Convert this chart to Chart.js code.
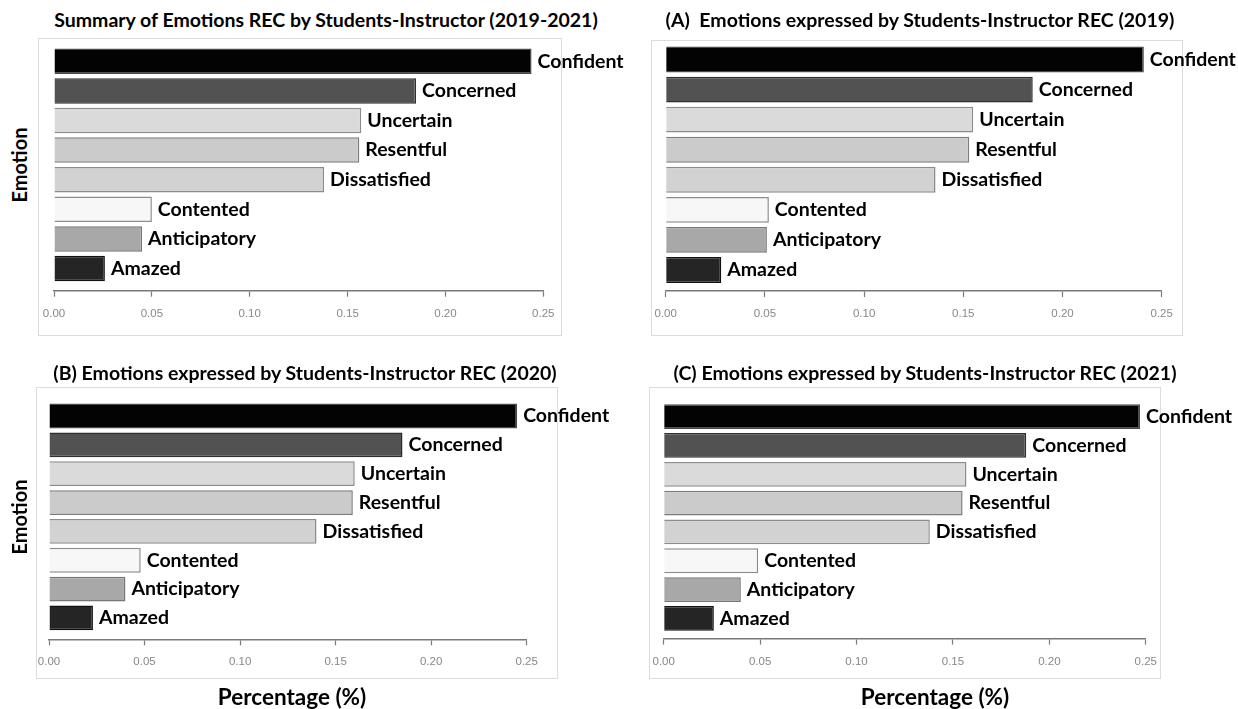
<!DOCTYPE html>
<html lang="en">
<head>
    <meta charset="UTF-8">
    <title>Emotions REC by Students-Instructor</title>
    <script src="https://cdn.jsdelivr.net/npm/chart.js"></script>
    <style>
        body {
            margin: 0;
            background: #fff;
            font-family: Lato, "Open Sans", sans-serif;
        }
        #page {
            position: relative;
            width: 1238px;
            height: 709px;
            overflow: hidden;
        }
        .frame {
            position: absolute;
            border: 1px solid #dcdcdc;
            box-sizing: border-box;
        }
        .title, .axis-title {
            position: absolute;
            font-weight: bold;
            white-space: pre;
            transform: translate(-50%, -50%);
            color: #000;
        }
        .title { font-size: 19.5px; }
        .axis-title { font-size: 20px; }
        .axis-title.pct { font-size: 22.5px; }
        .rot { transform: translate(-50%, -50%) rotate(-90deg); }
        canvas {
            position: absolute;
            left: 0;
            top: 0;
        }
    </style>
</head>
<body>
<div id="page"></div>

<script>
    // Emotion categories, top to bottom
    const emotions = ['Confident', 'Concerned', 'Uncertain', 'Resentful', 'Dissatisfied', 'Contented', 'Anticipatory', 'Amazed'];

    // Share of each emotion
    const summary2019to2021 = [0.244, 0.185, 0.157, 0.156, 0.138, 0.050, 0.045, 0.026];
    const values2019 = [0.241, 0.185, 0.155, 0.153, 0.136, 0.052, 0.051, 0.028];
    const values2020 = [0.245, 0.185, 0.160, 0.159, 0.140, 0.048, 0.040, 0.023];
    const values2021 = [0.247, 0.188, 0.157, 0.155, 0.138, 0.049, 0.040, 0.026];

    const xTicks = [0, 0.05, 0.10, 0.15, 0.20, 0.25];

    // grey shades per emotion
    const fills = ['#030303', '#525252', '#dadada', '#cbcbcb', '#d2d2d2', '#f7f7f7', '#a8a8a8', '#252525'];
    const borders = ['#4a4a4a', '#2e2e2e', '#8c8c8c', '#7c7c7c', '#8c8c8c', '#8c8c8c', '#777777', '#111111'];

    const W = 1238, H = 709, AXIS_H = 30;

    const panels = [
        {
            title: 'Summary of Emotions REC by Students-Instructor (2019-2021)', values: summary2019to2021,
            titlePos: [326, 19], frame: [38, 38, 562, 336],
            area: { left: 54, right: 543.3, top: 46.5, bottom: 290.7 }, yMax: 7.75,
            emotionLabel: [19, 165]
        },
        {
            title: '(A)  Emotions expressed by Students-Instructor REC (2019)', values: values2019,
            titlePos: [920, 19], frame: [651, 40, 1183, 336],
            area: { left: 665.7, right: 1161.7, top: 44.5, bottom: 291 }, yMax: 7.7
        },
        {
            title: '(B) Emotions expressed by Students-Instructor REC (2020)', values: values2020,
            titlePos: [305, 372], frame: [36, 387, 558, 679],
            area: { left: 49, right: 526.7, top: 401.6, bottom: 639.3 }, yMax: 7.74,
            emotionLabel: [19, 517], pctLabel: [292, 696]
        },
        {
            title: '(C) Emotions expressed by Students-Instructor REC (2021)', values: values2021,
            titlePos: [925, 372], frame: [649, 387, 1161, 679],
            area: { left: 663.7, right: 1145.8, top: 402.2, bottom: 638.6 }, yMax: 7.7,
            pctLabel: [935, 696]
        }
    ];

    const page = document.getElementById('page');

    function addText(cls, text, x, y) {
        const el = document.createElement('div');
        el.className = cls;
        el.textContent = text;
        el.style.left = x + 'px';
        el.style.top = y + 'px';
        page.appendChild(el);
    }

    // writes the emotion name just past the end of each bar
    const barNames = {
        id: 'barNames',
        afterDatasetsDraw(chart) {
            const ctx = chart.ctx;
            ctx.save();
            ctx.font = 'bold 19.5px Lato, "Open Sans", sans-serif';
            ctx.fillStyle = '#000';
            ctx.textAlign = 'left';
            ctx.textBaseline = 'middle';
            chart.getDatasetMeta(0).data.forEach((bar, i) => {
                ctx.fillText(emotions[i], bar.x + 6, bar.y);
            });
            ctx.restore();
        }
    };

    panels.forEach(p => {
        const [fl, ft, fr, fb] = p.frame;
        const frame = document.createElement('div');
        frame.className = 'frame';
        frame.style.left = fl + 'px';
        frame.style.top = ft + 'px';
        frame.style.width = (fr - fl) + 'px';
        frame.style.height = (fb - ft) + 'px';
        page.appendChild(frame);

        addText('title', p.title, p.titlePos[0], p.titlePos[1]);
        if (p.emotionLabel) addText('axis-title rot', 'Emotion', p.emotionLabel[0], p.emotionLabel[1]);
        if (p.pctLabel) addText('axis-title pct', 'Percentage (%)', p.pctLabel[0], p.pctLabel[1]);

        const canvas = document.createElement('canvas');
        canvas.width = W;
        canvas.height = H;
        page.appendChild(canvas);

        new Chart(canvas.getContext('2d'), {
            type: 'bar',
            data: {
                datasets: [{
                    data: p.values.map((v, i) => ({ x: v, y: i })),
                    backgroundColor: fills,
                    borderColor: borders,
                    borderWidth: 1.5,
                    barPercentage: 0.86,
                    categoryPercentage: 1
                }]
            },
            options: {
                indexAxis: 'y',
                responsive: false,
                animation: false,
                devicePixelRatio: 1,
                layout: {
                    padding: {
                        left: p.area.left,
                        right: W - p.area.right,
                        top: p.area.top,
                        bottom: H - p.area.bottom - AXIS_H
                    }
                },
                plugins: {
                    legend: { display: false },
                    tooltip: { enabled: false }
                },
                scales: {
                    y: {
                        type: 'linear',
                        reverse: true,
                        offset: false,
                        min: -0.5,
                        max: p.yMax,
                        display: false,
                        // one tick per emotion row so bar widths follow the row spacing
                        afterBuildTicks: axis => {
                            axis.ticks = emotions.map((_, i) => ({ value: i }));
                        }
                    },
                    x: {
                        type: 'linear',
                        min: xTicks[0],
                        max: xTicks[xTicks.length - 1],
                        afterBuildTicks: axis => {
                            axis.ticks = xTicks.map(v => ({ value: v }));
                        },
                        afterFit: axis => { axis.height = AXIS_H; },
                        border: { display: true, color: '#7a7a7a', width: 1.5 },
                        grid: {
                            drawOnChartArea: false,
                            drawTicks: true,
                            tickLength: 6,
                            tickColor: '#7a7a7a',
                            tickWidth: 1.2
                        },
                        ticks: {
                            padding: 10,
                            color: '#888888',
                            font: { family: '"Liberation Sans", Arial, sans-serif', size: 11.5 },
                            maxRotation: 0,
                            autoSkip: false,
                            callback: v => v.toFixed(2)
                        }
                    }
                }
            },
            plugins: [barNames]
        });
    });
</script>
</body>
</html>
